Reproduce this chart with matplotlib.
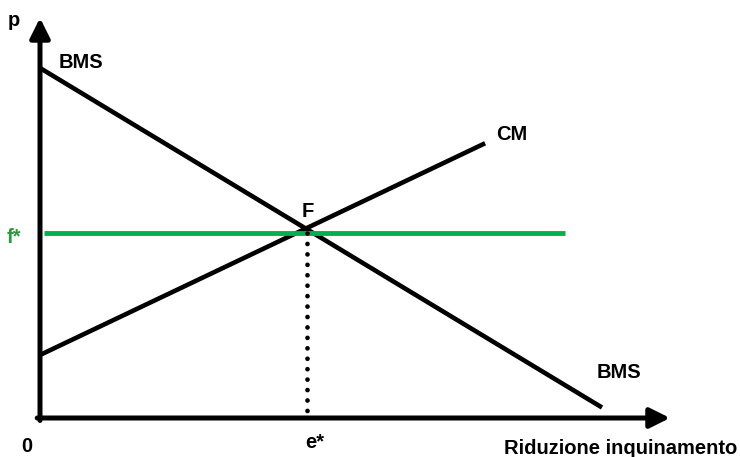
import matplotlib
matplotlib.use("Agg")
import matplotlib.pyplot as plt

plt.rcParams['font.family'] = ['Liberation Sans', 'DejaVu Sans']

# Data (economic units)
bms_x = [0.0, 10.0]
bms_y = [10.0, 0.3]
cm_x = [0.0, 7.92]
cm_y = [1.8, 7.85]
f_star = 5.3
f_x = [0.07, 9.35]
e_star = 4.75
x_axis_end = 11.21
y_axis_end = 11.43

labels = {
    "p": (-0.46, 11.37),
    "BMS_top": (0.73, 10.17),
    "CM": (8.4, 8.11),
    "F": (4.77, 5.91),
    "0": (-0.23, -0.8),
    "e*": (4.88, -0.71),
    "BMS_bot": (10.3, 1.31),
    "Riduzione inquinamento": (10.34, -0.86),
}

green = '#00B050'

fig = plt.figure(figsize=(7.4, 4.57), dpi=100)
ax = fig.add_axes([0, 0, 1, 1])
ax.set_xlim(-40 / 56.2, 700 / 56.2)
ax.set_ylim(-(457 - 418) / 35, 418 / 35)
ax.axis('off')

# axes with arrows
ax.annotate('', xy=(0, y_axis_end), xytext=(0, -0.07),
            arrowprops=dict(arrowstyle='-|>,head_length=0.6,head_width=0.3',
                            lw=3.6, color='black', mutation_scale=20,
                            shrinkA=0, shrinkB=0))
ax.annotate('', xy=(x_axis_end, 0), xytext=(-0.05, 0),
            arrowprops=dict(arrowstyle='-|>,head_length=0.6,head_width=0.3',
                            lw=3.6, color='black', mutation_scale=20,
                            shrinkA=0, shrinkB=0))

ax.plot(bms_x, bms_y, color='black', lw=3.3, solid_capstyle='butt')
ax.plot(cm_x, cm_y, color='black', lw=3.3, solid_capstyle='butt')
ax.plot(f_x, [f_star, f_star], color=green, lw=3.5, solid_capstyle='butt')
ax.plot([e_star, e_star], [f_star, 0], color='black', lw=3.4,
        dashes=(0.01, 2.2), dash_capstyle='round')

fs = 14.5
kw = dict(fontsize=fs, fontweight='bold', ha='center', va='center', color='black')
ax.text(*labels["p"], 'p', **kw)
ax.text(*labels["BMS_top"], 'BMS', **kw)
ax.text(*labels["CM"], 'CM', **kw)
ax.text(*labels["F"], 'F', **kw)
ax.text(*labels["0"], '0', **kw)
ax.text(*labels["e*"], 'e*', **kw)
ax.text(*labels["BMS_bot"], 'BMS', **kw)
ax.text(*labels["Riduzione inquinamento"], 'Riduzione inquinamento', **kw)
ax.text(-0.46, 5.17, 'f*', fontsize=fs, fontweight='bold', ha='center',
        va='center', color='#2a9a3c')

fig.savefig('out.png', dpi=100)
